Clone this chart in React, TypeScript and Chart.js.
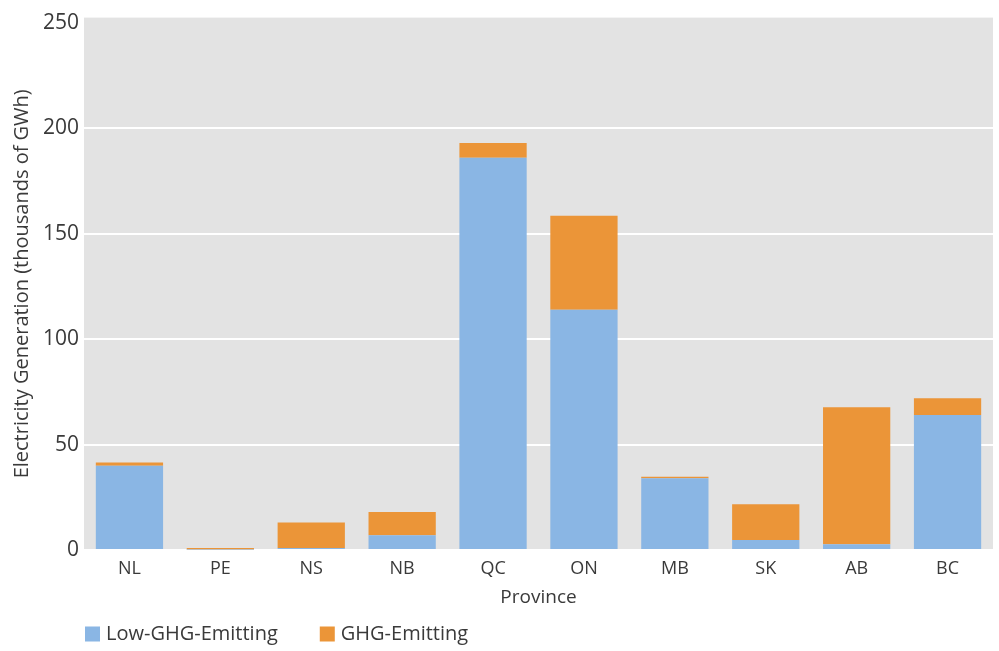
import React, { useEffect, useRef } from "react";
import { Chart, registerables } from "chart.js";

Chart.register(...registerables);

const provinces = ["NL", "PE", "NS", "NB", "QC", "ON", "MB", "SK", "AB", "BC"];
const lowGhg = [40, 0.2, 1, 7, 186, 114, 34, 4.7, 2.7, 64];
const ghg = [1.5, 0.8, 12, 11, 7, 44.5, 0.7, 17, 65, 8];
const yTickValues = [0, 50, 100, 150, 200, 250];
const seriesLabels = ["Low-GHG-Emitting", "GHG-Emitting"];
const seriesColors = ["#8ab6e4", "#eb9538"];

const FONT = '"Open Sans", "Noto Sans", sans-serif';
const TEXT = "#3a3a3a";

const bgPlugin = {
  id: "plotBg",
  beforeDraw(chart: any) {
    const { ctx, chartArea } = chart;
    ctx.save();
    ctx.fillStyle = "#e3e3e3";
    ctx.fillRect(chartArea.left, chartArea.top, chartArea.right - chartArea.left, chartArea.bottom - chartArea.top);
    ctx.restore();
  },
};

const legendPlugin = {
  id: "customLegend",
  afterDraw(chart: any) {
    const { ctx, chartArea } = chart;
    ctx.save();
    ctx.font = `20px ${FONT}`;
    ctx.textBaseline = "middle";
    ctx.textAlign = "left";
    let x = chartArea.left + 1;
    const yc = 634;
    chart.data.datasets.forEach((ds: any) => {
      ctx.fillStyle = ds.backgroundColor;
      ctx.fillRect(x, yc - 7.5, 15, 15);
      ctx.fillStyle = TEXT;
      ctx.fillText(ds.label, x + 21, yc);
      x += 21 + ctx.measureText(ds.label).width + 42;
    });
    ctx.restore();
  },
};

export default function App() {
  const ref = useRef<HTMLCanvasElement | null>(null);
  useEffect(() => {
    if (!ref.current) return;
    const chart = new Chart(ref.current, {
      type: "bar",
      data: {
        labels: provinces,
        datasets: [
          { label: seriesLabels[0], data: lowGhg, backgroundColor: seriesColors[0], borderWidth: 0 },
          { label: seriesLabels[1], data: ghg, backgroundColor: seriesColors[1], borderWidth: 0 },
        ],
      },
      options: {
        animation: false,
        responsive: true,
        maintainAspectRatio: false,
        layout: { padding: { left: 0, right: 6, top: 16, bottom: 44 } },
        datasets: { bar: { categoryPercentage: 1, barPercentage: 0.74 } },
        plugins: { legend: { display: false }, tooltip: { enabled: false } },
        scales: {
          x: {
            stacked: true,
            grid: { display: false, drawTicks: false },
            border: { display: false },
            ticks: { color: TEXT, font: { family: FONT, size: 18 }, padding: 8 },
            title: {
              display: true,
              text: "Province",
              color: TEXT,
              font: { family: FONT, size: 19 },
              padding: { top: 0, bottom: -2 },
            },
            afterFit(scale: any) {
              scale.height = 57;
            },
          },
          y: {
            stacked: true,
            min: 0,
            max: 252.5,
            grid: {
              color: (c: any) => (c.tick && c.tick.value === 250 ? "rgba(0,0,0,0)" : "#ffffff"),
              lineWidth: 2,
              drawTicks: false,
            },
            border: { display: false },
            afterBuildTicks(scale: any) {
              scale.ticks = yTickValues.map((v) => ({ value: v }));
            },
            ticks: { color: TEXT, font: { family: FONT, size: 21 }, padding: 5 },
            title: {
              display: true,
              text: "Electricity Generation (thousands of GWh)",
              color: TEXT,
              font: { family: FONT, size: 20 },
              padding: { top: 10, bottom: 0 },
            },
            afterFit(scale: any) {
              scale.width = 84;
            },
          },
        },
      },
      plugins: [bgPlugin, legendPlugin],
    });
    return () => chart.destroy();
  }, []);
  return (
    <div style={{ position: "absolute", left: 0, top: 0, width: 999, height: 651, background: "#fff" }}>
      <canvas ref={ref} />
    </div>
  );
}
